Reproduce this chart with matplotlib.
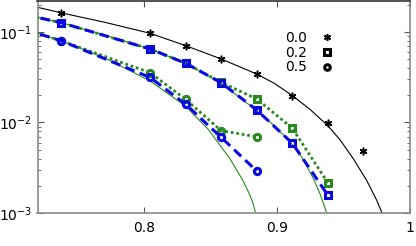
import matplotlib
matplotlib.use("Agg")
import matplotlib.pyplot as plt
from matplotlib.lines import Line2D

# ---- data ----
# alpha = 0.0 markers (black asterisks)
x_k = [0.7377, 0.8046, 0.8314, 0.858, 0.8848, 0.9116, 0.9382, 0.965]
y_k = [0.163, 0.0968, 0.0706, 0.0504, 0.0343, 0.0198, 0.0098, 0.00489]

# alpha = 0.2 (squares)
x_sq_b = [0.711, 0.7377, 0.8046, 0.8314, 0.858, 0.8848, 0.9116, 0.9382]
y_sq_b = [0.155, 0.1267, 0.0649, 0.0451, 0.0275, 0.01374, 0.00589, 0.00158]
x_sq_g = [0.711, 0.7377, 0.8046, 0.8314, 0.858, 0.8848, 0.9116, 0.9382]
y_sq_g = [0.155, 0.1267, 0.0649, 0.0451, 0.0278, 0.0182, 0.00863, 0.00216]

# alpha = 0.5 (circles)
x_ci_b = [0.711, 0.7377, 0.8046, 0.8314, 0.858, 0.8848]
y_ci_b = [0.106, 0.0801, 0.0315, 0.0159, 0.00686, 0.00291]
x_ci_g = [0.711, 0.7377, 0.8046, 0.8314, 0.858, 0.8848]
y_ci_g = [0.106, 0.0801, 0.0355, 0.0180, 0.00813, 0.00696]

# theory curves
x_th0 = [0.72, 0.7377, 0.771, 0.8046, 0.8314, 0.858, 0.8848, 0.898, 0.9116,
         0.925, 0.9382, 0.9474, 0.9575, 0.9675, 0.975, 0.9805]
y_th0 = [0.1875, 0.163, 0.1275, 0.0968, 0.0706, 0.0504, 0.0343, 0.0271, 0.0198,
         0.0139, 0.00923, 0.00644, 0.00395, 0.00228, 0.00138, 0.000883]

x_th2 = [0.72, 0.7377, 0.771, 0.8046, 0.8314, 0.858, 0.8848, 0.8975, 0.9098,
         0.919, 0.9274, 0.9324, 0.9374, 0.9395]
y_th2 = [0.145, 0.1267, 0.092, 0.0649, 0.0451, 0.0272, 0.0135, 0.00933, 0.00614,
         0.00407, 0.0024, 0.00162, 0.00100, 0.00080]

x_th5 = [0.72, 0.7377, 0.771, 0.8046, 0.8314, 0.848, 0.8647, 0.874, 0.879,
         0.8815, 0.884]
y_th5 = [0.0967, 0.0801, 0.0513, 0.0288, 0.0151, 0.00851, 0.00398, 0.00234,
         0.00166, 0.00135, 0.00100]

legend_labels = ["0.0", "0.2", "0.5"]

BLUE = "#0a0ae0"
GREEN = "#2a8a1f"

fig = plt.figure(figsize=(4.16, 2.46), dpi=100)
ax = fig.add_axes([37.5/416, 33/246, (410-37.5)/416, 212/246])

# theory curves
ax.plot(x_th0, y_th0, color="black", lw=0.8, zorder=2)
ax.plot(x_th2, y_th2, color=GREEN, lw=0.8, zorder=2)
ax.plot(x_th5, y_th5, color=GREEN, lw=0.8, zorder=2)

# green dotted with markers
mk = dict(ms=4.5, mfc="none", mew=2.2)
ax.plot(x_sq_g, y_sq_g, color=GREEN, lw=2.0, ls=(0, (1, 1)), marker="s",
        zorder=3, **mk)
ax.plot(x_ci_g, y_ci_g, color=GREEN, lw=2.0, ls=(0, (1, 1)), marker="o",
        zorder=3, **mk)

# blue dashed with markers
ax.plot(x_sq_b, y_sq_b, color=BLUE, lw=2.2, ls=(0, (3.2, 1.8)), marker="s",
        zorder=4, **mk)
ax.plot(x_ci_b, y_ci_b, color=BLUE, lw=2.2, ls=(0, (3.2, 1.8)), marker="o",
        zorder=4, **mk)

# black asterisks
ax.plot(x_k, y_k, ls="none", marker=(6, 2, 0), ms=5.5, mew=1.1,
        color="black", zorder=5)

ax.set_yscale("log")
ax.set_xlim(0.72, 1.0)
ax.set_ylim(0.001, 0.22)
ax.set_xticks([0.8, 0.9, 1.0])
ax.set_xticklabels(["0.8", "0.9", "1"])

for s in ax.spines.values():
    s.set_color("#8a8a8a")
    s.set_linewidth(1.2)
ax.spines["top"].set_color("#333333")

ax.tick_params(which="both", direction="in", top=True, right=True,
               colors="#555555", labelcolor="black", labelsize=10)
ax.tick_params(which="major", length=4)
ax.tick_params(which="minor", length=2.5)
ax.tick_params(axis="x", pad=6)

handles = [
    Line2D([], [], ls="none", marker=(6, 2, 0), ms=5, mew=1.1, color="black"),
    Line2D([], [], ls="none", marker="s", ms=4, mfc="none", mew=2.2, color="black"),
    Line2D([], [], ls="none", marker="o", ms=4, mfc="none", mew=2.2, color="black"),
]
ax.legend(handles, legend_labels, loc="center", bbox_to_anchor=(0.73, 0.756),
          frameon=False, markerfirst=False, fontsize=10, labelspacing=0.05,
          handlelength=1.0, handletextpad=0.9, borderpad=0.2)

fig.savefig("out.png", dpi=100)
